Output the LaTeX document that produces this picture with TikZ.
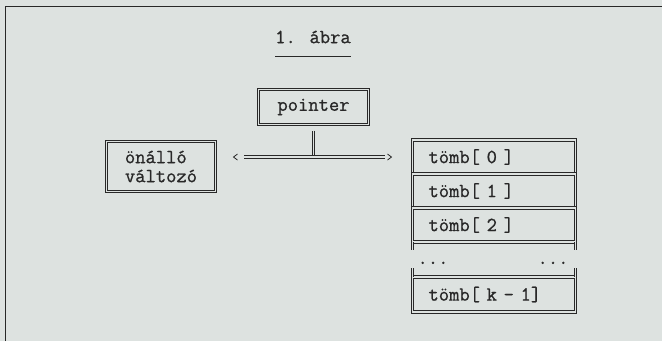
\documentclass[tikz,border=0pt]{standalone}
\usepackage{fontspec}
\newfontfamily\typewriter{Latin Modern Mono}[FakeBold=0.9]
\usepackage{xcolor}
\usepackage{tikz}
\usetikzlibrary{positioning, calc}

\definecolor{paper}{RGB}{221,226,224}
\definecolor{ink}{RGB}{40,40,40}

\begin{document}
\begin{tikzpicture}[
    x=1pt, y=-1pt,
    every node/.style={text=ink, font=\typewriter\fontsize{20}{19}\selectfont},
    dbl/.style={draw=ink, line width=0.95pt, double=paper, double distance=1.5pt},
    box/.style={rectangle, dbl, outer sep=0pt},
    cell/.style={box, minimum width=163pt, minimum height=34pt, text width=131pt, inner xsep=16pt, align=left},
    chev/.style={draw=ink, line width=0.8pt},
    label/.style={inner sep=0pt}
]

% paper and frame
\fill[paper] (0,0) rectangle (662,341);
\useasboundingbox (0,0) rectangle (662,341);
\draw[ink, line width=0.9pt] (5,341) -- (5,6) -- (662,6);

% Title
\node[label] (title) at (313,37) {1. ábra};
\draw[ink, line width=0.9pt] ([yshift=-13pt]title.south west) -- ([yshift=-13pt]title.south east);

% Pointer (top)
\node[box, minimum width=110pt, minimum height=35pt] (pointer) at (313.5,107) {pointer};

% Standalone variable (left)
\node[box, minimum width=109pt, minimum height=50pt, align=left] (onallo) at (161,166.5) {önálló\\változó};

% Array (right)
\node[cell] (tomb0) at (494,157) {tömb[ 0 ]};
\node[cell, below=0pt of tomb0] (tomb1) {tömb[ 1 ]};
\node[cell, below=0pt of tomb1] (tomb2) {tömb[ 2 ]};
\node[cell, minimum height=35pt, below=35pt of tomb2] (tombk) {tömb[ k - 1]};

% Open sides of the array
\draw[dbl] (tomb2.south west) -- ++(0,8);
\draw[dbl] (tomb2.south east) -- ++(0,8);
\draw[dbl] (tombk.north west) -- ++(0,-9);
\draw[dbl] (tombk.north east) -- ++(0,-9);
\node[label, anchor=base] (dotsl) at (433,264) {...};
\node[label, anchor=base] (dotsr) at (553,264) {...};

% Pointer connector
\coordinate (hub) at (pointer.south |- 0,157);
\draw[dbl, shorten <=6pt] (pointer) -- (hub);
\draw[dbl, shorten <=28.5pt, shorten >=27.5pt] (onallo.east |- hub) -- (tomb0.west |- hub);
\draw[chev] ($(onallo.east |- hub)+(22,-3)$) -- ++(-4,3) -- ++(4,3);
\draw[chev] ($(tomb0.west |- hub)+(-25,-3)$) -- ++(4,3) -- ++(-4,3);

\end{tikzpicture}
\end{document}
